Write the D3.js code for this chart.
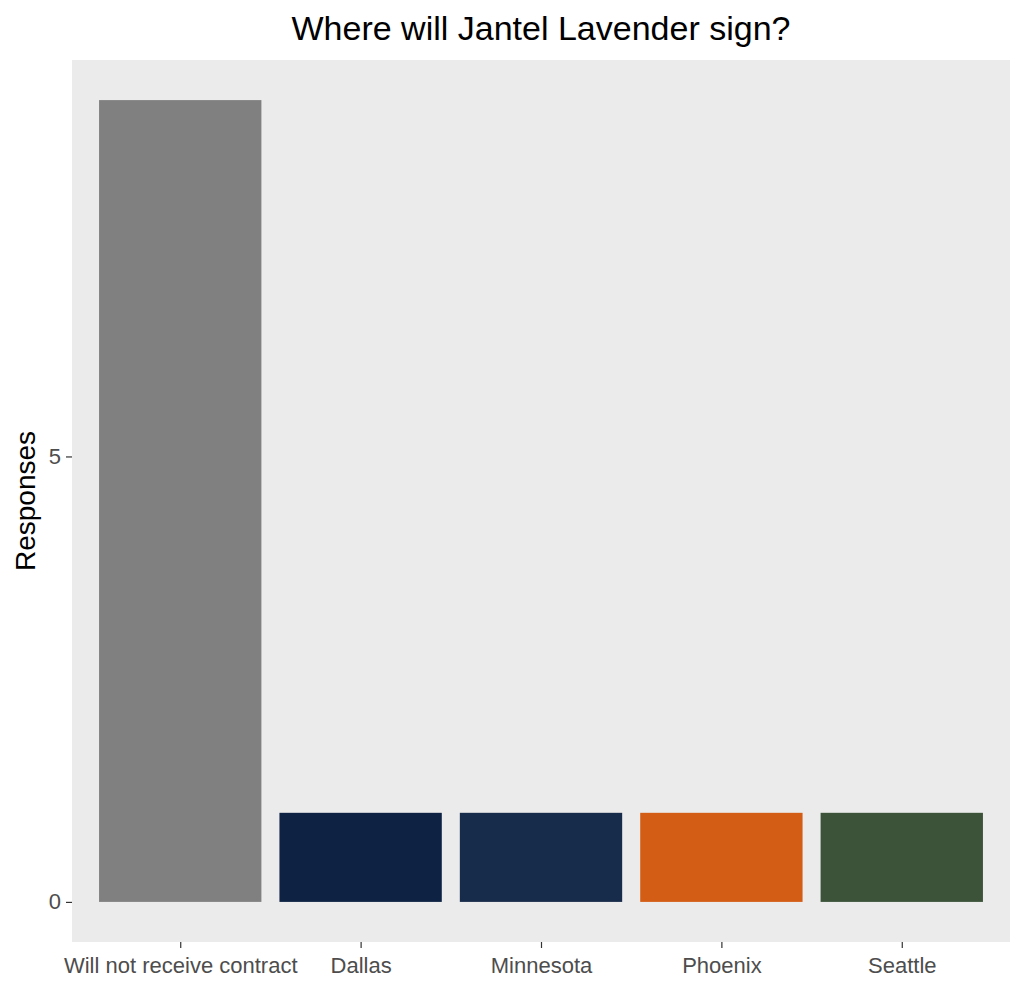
<!DOCTYPE html>
<html><head><meta charset="utf-8">
<script src="https://cdn.jsdelivr.net/npm/d3@7"></script>
<style>body{margin:0;background:#fff;} text{font-family:"Liberation Sans",Arial,sans-serif;}</style>
</head><body>
<svg id="c" width="1024" height="991"></svg>
<script>
const categories = ["Will not receive contract","Dallas","Minnesota","Phoenix","Seattle"];
const responses = [9,1,1,1,1];
const colors = ["#808080","#0e2343","#172b4a","#d45d15","#3c5339"];
const yTicks = [0,5];
const title = "Where will Jantel Lavender sign?";
const yTitle = "Responses";

const svg = d3.select("#c");
const L=72, R=1010, T=60, B=942;
const step=(R-L)/5.2;
const xc = d3.scalePoint().domain(categories).range([L+0.6*step, R-0.6*step]);
const y = d3.scaleLinear().domain([-0.45,9.45]).range([B,T]);

svg.append("rect").attr("x",L).attr("y",T).attr("width",R-L).attr("height",B-T).attr("fill","#ebebeb");

svg.selectAll("rect.bar").data(categories).join("rect").attr("class","bar")
  .attr("x",d=>xc(d)-0.45*step).attr("width",0.9*step)
  .attr("y",(d,i)=>y(responses[i])).attr("height",(d,i)=>y(0)-y(responses[i]))
  .attr("fill",(d,i)=>colors[i]);

const yAxis = d3.axisLeft(y).tickValues(yTicks).tickSize(6).tickPadding(5);
const gy = svg.append("g").attr("transform",`translate(${L},0)`).call(yAxis);
gy.select(".domain").remove();
gy.selectAll("line").attr("stroke","#333").attr("stroke-width",1.2);
gy.selectAll("text").attr("fill","#4d4d4d").style("font-size","22px").style("font-family","Liberation Sans, Arial, sans-serif");

const xAxis = d3.axisBottom(xc).tickSize(6).tickPadding(9);
const gx = svg.append("g").attr("transform",`translate(0,${B})`).call(xAxis);
gx.select(".domain").remove();
gx.selectAll("line").attr("stroke","#333").attr("stroke-width",1.2);
gx.selectAll("text").attr("fill","#4d4d4d").style("font-size","22px").style("font-family","Liberation Sans, Arial, sans-serif");

svg.append("text").attr("x",(L+R)/2).attr("y",40).attr("text-anchor","middle")
  .style("font-size","34px").attr("fill","#000").text(title);
svg.append("text").attr("transform",`translate(35,${(T+B)/2}) rotate(-90)`).attr("text-anchor","middle")
  .style("font-size","28px").attr("fill","#000").text(yTitle);
</script>
</body></html>
